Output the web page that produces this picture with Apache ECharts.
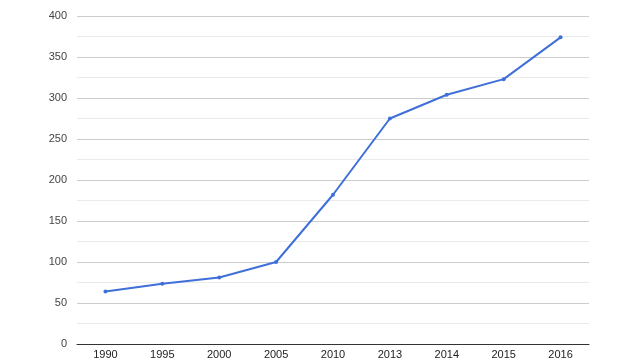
<!DOCTYPE html>
<html><head><meta charset="utf-8">
<script src="https://cdn.jsdelivr.net/npm/echarts@6/dist/echarts.min.js"></script>
<style>html,body{margin:0;padding:0;background:#fff}#c{width:640px;height:360px}</style>
</head><body><div id="c"></div>
<script>
const categories = ['1990','1995','2000','2005','2010','2013','2014','2015','2016'];
const values = [64, 73.5, 81, 100, 182, 275, 304, 323, 374];
const chart = echarts.init(document.getElementById('c'), null, {renderer:'canvas'});
chart.setOption({
  animation:false,
  grid:{left:77,right:51,top:16,bottom:16},
  xAxis:{type:'category',data:categories,boundaryGap:true,
    axisLine:{lineStyle:{color:'#333',width:1}},axisTick:{show:false},
    axisLabel:{color:'#222',fontFamily:'Arial, Liberation Sans, sans-serif',fontSize:11,margin:5}},
  yAxis:{type:'value',min:0,max:400,interval:50,
    axisLine:{show:false},axisTick:{show:false},
    axisLabel:{color:'#444',fontFamily:'Arial, Liberation Sans, sans-serif',fontSize:11,margin:10},
    splitLine:{lineStyle:{color:'#ccc'}},
    minorTick:{show:false,splitNumber:2},
    minorSplitLine:{show:true,lineStyle:{color:'#ebebeb'}}},
  series:[{type:'line',data:values,symbol:'circle',symbolSize:4,
    itemStyle:{color:'#3f6fd8'},lineStyle:{color:'#3f6fd8',width:2}}]
});
</script></body></html>
